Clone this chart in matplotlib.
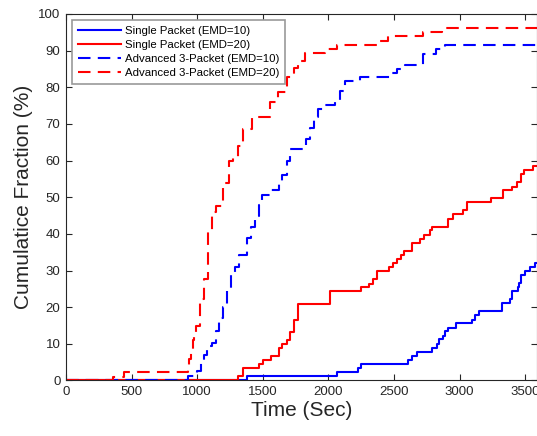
import matplotlib
matplotlib.use("Agg")
import matplotlib.pyplot as plt

plt.rcParams['font.family'] = ['Liberation Sans', 'DejaVu Sans']

# Single Packet (EMD=10)
t_single10 = [0, 1377, 2068, 2223, 2248, 2609, 2639, 2672, 2789, 2830, 2845, 2875, 2886,
              2911, 2970, 3092, 3119, 3150, 3323, 3383, 3396, 3442, 3454, 3467, 3498,
              3536, 3574, 3600]
v_single10 = [0, 1.1, 2.3, 3.4, 4.4, 5.5, 6.7, 7.8, 8.9, 10.0, 11.2, 12.2, 13.4,
              14.4, 15.6, 16.6, 17.8, 18.9, 21.1, 22.3, 24.3, 25.4, 26.6, 28.7, 29.8,
              30.9, 32.1, 32.1]

# Single Packet (EMD=20)
t_single20 = [0, 1313, 1346, 1471, 1499, 1560, 1623, 1649, 1682, 1707, 1740, 1770, 2009,
              2248, 2311, 2340, 2367, 2461, 2489, 2520, 2550, 2578, 2639, 2698, 2731,
              2774, 2787, 2909, 2952, 3028, 3058, 3239, 3330, 3396, 3434, 3465, 3493,
              3561, 3600]
v_single20 = [0, 1.2, 3.4, 4.6, 5.6, 6.6, 8.9, 10.0, 11.1, 13.3, 16.5, 21.0, 24.3,
              25.4, 26.4, 27.6, 29.8, 30.9, 32.0, 33.2, 34.2, 35.4, 37.6, 38.7, 39.8,
              41.0, 42.0, 44.1, 45.3, 46.4, 48.6, 49.7, 51.9, 52.9, 54.2, 56.4, 57.5,
              58.6, 58.6]

# Advanced 3-Packet (EMD=10)
t_adv10 = [0, 932, 1000, 1030, 1055, 1072, 1110, 1143, 1170, 1200, 1230, 1260, 1290,
           1321, 1380, 1413, 1440, 1470, 1495, 1555, 1620, 1650, 1682, 1707, 1803,
           1830, 1860, 1890, 1920, 1974, 2050, 2090, 2126, 2240, 2482, 2520, 2583,
           2723, 2819, 2888, 3600]
v_adv10 = [0, 1.2, 2.6, 5.0, 7.0, 9.4, 10.3, 13.4, 17.0, 20.0, 25.0, 29.0, 31.0,
           34.3, 38.8, 42.0, 45.0, 48.0, 50.7, 51.9, 54.0, 56.0, 59.8, 63.1, 64.3,
           66.0, 69.0, 72.0, 74.0, 75.2, 76.4, 79.0, 81.7, 82.7, 83.8, 85.0, 86.2,
           89.2, 90.5, 91.6, 91.6]

# Advanced 3-Packet (EMD=20)
t_adv20 = [0, 356, 445, 927, 940, 952, 965, 978, 991, 1021, 1050, 1085, 1110, 1145,
           1194, 1245, 1270, 1313, 1351, 1415, 1557, 1615, 1682, 1737, 1770, 1821,
           1974, 2063, 2393, 2456, 2723, 2863, 3600]
v_adv20 = [0, 1.0, 2.3, 4.0, 6.0, 8.0, 11.0, 13.0, 14.8, 22.3, 27.7, 40.9, 45.9, 47.5,
           53.8, 59.8, 61.0, 64.0, 68.6, 71.8, 76.1, 78.8, 82.9, 85.4, 87.3, 89.4,
           90.5, 91.6, 92.6, 94.0, 95.0, 96.1, 96.1]

fig = plt.figure(figsize=(5.37, 4.36), dpi=100)
ax = fig.add_axes([0.1229, 0.1273, 0.8771, 0.8406])

dash = (0, (6, 3.5))
ax.step(t_single10, v_single10, where='post', color='#0000ff', lw=1.5,
        label='Single Packet (EMD=10)')
ax.step(t_single20, v_single20, where='post', color='#ff0000', lw=1.5,
        label='Single Packet (EMD=20)')
ax.step(t_adv10, v_adv10, where='post', color='#0000ff', lw=1.5, ls=dash,
        label='Advanced 3-Packet (EMD=10)')
ax.step(t_adv20, v_adv20, where='post', color='#ff0000', lw=1.5, ls=dash,
        label='Advanced 3-Packet (EMD=20)')

ax.set_xlim(0, 3590)
ax.set_ylim(0, 100)
ax.set_xticks(range(0, 3501, 500))
ax.set_yticks(range(0, 101, 10))
ax.tick_params(direction='in', top=True, right=True, length=4, width=0.8,
               labelsize=9.5, colors='#262626', pad=4)
for s in ax.spines.values():
    s.set_color('#262626')
    s.set_linewidth(0.8)

ax.set_xlabel('Time (Sec)', fontsize=15, color='#262626', labelpad=2)
ax.set_ylabel('Cumulatice Fraction (%)', fontsize=15, color='#262626', labelpad=4)

leg = ax.legend(loc='upper left', fontsize=8.2, fancybox=False, framealpha=1,
                edgecolor='#999999', borderaxespad=0.55, handlelength=3.8,
                labelspacing=0.36, borderpad=0.5, handletextpad=0.3)
leg.get_frame().set_linewidth(1.2)

fig.savefig('out.png', dpi=100)
